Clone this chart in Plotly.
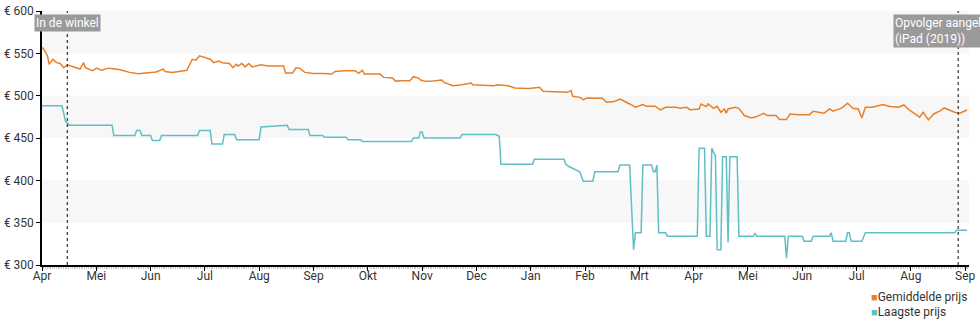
import pandas as pd
import plotly.graph_objects as go

# Month tick labels (Apr 2018 .. Sep 2019), evenly spaced
month_labels = ["Apr", "Mei", "Jun", "Jul", "Aug", "Sep", "Okt", "Nov", "Dec",
                "Jan", "Feb", "Mrt", "Apr", "Mei", "Jun", "Jul", "Aug", "Sep"]

# Average price
avg_dates = [
    "2018-04-01", "2018-04-02", "2018-04-04", "2018-04-05", "2018-04-07", "2018-04-09",
    "2018-04-11", "2018-04-13", "2018-04-15", "2018-04-20", "2018-04-22", "2018-04-24",
    "2018-04-25", "2018-04-29", "2018-05-01", "2018-05-04", "2018-05-08", "2018-05-14",
    "2018-05-20", "2018-05-25", "2018-05-29", "2018-06-04", "2018-06-08", "2018-06-09",
    "2018-06-13", "2018-06-16", "2018-06-21", "2018-06-24", "2018-06-26", "2018-06-28",
    "2018-07-01", "2018-07-04", "2018-07-06", "2018-07-09", "2018-07-11", "2018-07-15",
    "2018-07-17", "2018-07-19", "2018-07-20", "2018-07-22", "2018-07-24", "2018-07-26",
    "2018-07-28", "2018-08-02", "2018-08-06", "2018-08-15", "2018-08-16", "2018-08-20",
    "2018-08-22", "2018-08-24", "2018-08-27", "2018-09-01", "2018-09-07", "2018-09-11",
    "2018-09-13", "2018-09-18", "2018-09-24", "2018-09-26", "2018-09-28", "2018-09-29",
    "2018-10-08", "2018-10-10", "2018-10-15", "2018-10-17", "2018-10-19", "2018-10-25",
    "2018-10-27", "2018-10-30", "2018-10-31", "2018-11-03", "2018-11-07", "2018-11-12",
    "2018-11-13", "2018-11-18", "2018-11-23", "2018-11-28", "2018-11-29", "2018-12-11",
    "2018-12-13", "2018-12-19", "2018-12-23", "2018-12-31", "2019-01-06", "2019-01-08",
    "2019-01-14", "2019-01-22", "2019-01-24", "2019-01-25", "2019-01-29", "2019-01-31",
    "2019-02-02", "2019-02-05", "2019-02-10", "2019-02-12", "2019-02-16", "2019-02-19",
    "2019-02-21", "2019-02-22", "2019-02-24", "2019-02-27", "2019-03-03", "2019-03-05",
    "2019-03-10", "2019-03-13", "2019-03-16", "2019-03-22", "2019-03-24", "2019-03-28",
    "2019-03-30", "2019-04-04", "2019-04-05", "2019-04-08", "2019-04-09", "2019-04-12",
    "2019-04-14", "2019-04-16", "2019-04-18", "2019-04-19", "2019-04-20", "2019-04-24",
    "2019-04-26", "2019-04-29", "2019-05-03", "2019-05-06", "2019-05-10", "2019-05-12",
    "2019-05-17", "2019-05-19", "2019-05-23", "2019-05-25", "2019-05-30", "2019-06-05",
    "2019-06-07", "2019-06-10", "2019-06-13", "2019-06-16", "2019-06-18", "2019-06-23",
    "2019-06-26", "2019-06-29", "2019-07-02", "2019-07-04", "2019-07-06", "2019-07-10",
    "2019-07-13", "2019-07-16", "2019-07-20", "2019-07-25", "2019-07-28", "2019-07-31",
    "2019-08-04", "2019-08-06", "2019-08-08", "2019-08-11", "2019-08-14", "2019-08-18",
    "2019-08-20", "2019-08-23", "2019-08-26", "2019-08-29", "2019-08-31", "2019-09-02",
]
avg_prices = [
    557, 555, 547, 537, 543, 539,
    538, 533, 536.5, 533, 531.4, 539,
    533, 529.4, 532.5, 530, 532.5, 531,
    527.5, 526, 526.7, 528, 531.4, 528.6,
    527.5, 528.6, 530, 543, 542, 547,
    545, 543, 539, 541, 539, 538,
    533, 537, 535, 538, 534, 538,
    534, 536.5, 535, 535, 526.7, 526.7,
    533, 532.5, 527.5, 526.3, 526.3, 525.5,
    528.6, 529.4, 529.4, 526.3, 530, 525.5,
    525.5, 521.6, 520.8, 516.9, 517.6, 517.6,
    522.4, 520.8, 518.4, 516.9, 517.3, 518.4,
    515.7, 511.8, 513, 514.9, 513, 511.8,
    513, 511.8, 509, 508.6, 509.8, 505.1,
    504.7, 503.9, 505.9, 499.2, 498, 495.3,
    497.3, 496.9, 496.9, 492.2, 493, 496.1,
    493.3, 492.5, 490.2, 486.3, 489.4, 487.5,
    487.5, 483.1, 486.3, 486.3, 485.1, 486.3,
    483.5, 484.3, 490.2, 487.1, 490.2, 485.1,
    487.5, 480.4, 484.3, 479.2, 484.3, 486.3,
    485.1, 476.5, 473.7, 475.3, 479.2, 476.5,
    476.5, 471.8, 471.8, 478.4, 477.6, 477.6,
    481.6, 480.4, 479.2, 484.3, 481.6, 485.5,
    491, 485.1, 484.3, 473.7, 486.3, 486.3,
    488.2, 489.4, 487.1, 486.3, 489, 483.1,
    477.6, 474.5, 480.4, 471.4, 478.4, 482.4,
    485.5, 483.1, 480.4, 479.2, 481.6, 483.1,
]

# Lowest price
low_dates = [
    "2018-04-01", "2018-04-12", "2018-04-14", "2018-04-15", "2018-04-16", "2018-05-10",
    "2018-05-11", "2018-05-23", "2018-05-24", "2018-05-26", "2018-05-27", "2018-06-01",
    "2018-06-02", "2018-06-06", "2018-06-07", "2018-06-27", "2018-06-28", "2018-07-04",
    "2018-07-05", "2018-07-11", "2018-07-12", "2018-07-18", "2018-07-19", "2018-08-01",
    "2018-08-02", "2018-08-17", "2018-08-18", "2018-08-29", "2018-08-30", "2018-09-06",
    "2018-09-07", "2018-09-19", "2018-09-20", "2018-09-27", "2018-09-28", "2018-10-26",
    "2018-10-27", "2018-10-30", "2018-10-31", "2018-11-01", "2018-11-02", "2018-11-22",
    "2018-11-23", "2018-12-12", "2018-12-14", "2018-12-15", "2019-01-02", "2019-01-03",
    "2019-01-20", "2019-01-21", "2019-01-23", "2019-01-29", "2019-01-31", "2019-02-05",
    "2019-02-06", "2019-02-18", "2019-02-19", "2019-02-24", "2019-02-26", "2019-02-27",
    "2019-03-02", "2019-03-03", "2019-03-08", "2019-03-09", "2019-03-10", "2019-03-11",
    "2019-03-12", "2019-03-16", "2019-03-17", "2019-04-03", "2019-04-04", "2019-04-07",
    "2019-04-08", "2019-04-10", "2019-04-11", "2019-04-12", "2019-04-13", "2019-04-14",
    "2019-04-16", "2019-04-17", "2019-04-19", "2019-04-20", "2019-04-21", "2019-04-25",
    "2019-04-26", "2019-05-04", "2019-05-05", "2019-05-06", "2019-05-22", "2019-05-23",
    "2019-05-24", "2019-06-01", "2019-06-02", "2019-06-06", "2019-06-07", "2019-06-16",
    "2019-06-17", "2019-06-18", "2019-06-25", "2019-06-26", "2019-06-27", "2019-06-28",
    "2019-07-04", "2019-07-06", "2019-08-26", "2019-08-27", "2019-09-02",
]
low_prices = [
    488, 488, 470, 468, 465, 465,
    453, 453, 459, 459, 453, 453,
    447, 447, 453, 453, 459, 459,
    443, 443, 454, 454, 448, 448,
    463, 465, 460, 460, 453, 453,
    451, 451, 448, 448, 446, 446,
    450, 450, 457, 457, 450, 450,
    454, 454, 452, 419, 419, 425,
    425, 419, 416, 410, 399, 399,
    410, 410, 418, 418, 318, 338,
    338, 418, 418, 410, 410, 418,
    338, 338, 334, 334, 438, 438,
    334, 334, 438, 433, 429, 318,
    318, 428, 428, 327, 428, 428,
    334, 334, 337, 334, 334, 308,
    334, 334, 328, 328, 334, 334,
    338, 328, 328, 338, 338, 328,
    328, 338, 338, 341, 341,
]

series_names = ["Gemiddelde prijs", "Laagste prijs"]

# Events marked on the timeline
event_dates = ["2018-04-15", "2019-08-28"]
event_labels = ["In de winkel", "Opvolger aangekondigd<br>(iPad (2019))"]

y_ticks = [300, 350, 400, 450, 500, 550, 600]
FIRST = pd.Timestamp("2018-04-01")


def month_pos(d):
    """Position on the evenly spaced month axis (0 = start of Apr 2018)."""
    t = pd.Timestamp(d)
    k = (t.year - FIRST.year) * 12 + (t.month - FIRST.month)
    return k + (t.day - 1) / t.days_in_month


ORANGE = "#e8802a"
TEAL = "#5fbfc6"
FONT = "Roboto"

fig = go.Figure()

fig.add_trace(go.Scatter(
    x=[month_pos(d) for d in avg_dates], y=avg_prices, mode="lines", name=series_names[0],
    line=dict(color=ORANGE, width=1.5), showlegend=False, hoverinfo="skip"))
fig.add_trace(go.Scatter(
    x=[month_pos(d) for d in low_dates], y=low_prices, mode="lines", name=series_names[1],
    line=dict(color=TEAL, width=1.5), showlegend=False, hoverinfo="skip"))

shapes = []
# alternating light bands
for lo in (550, 450, 350):
    shapes.append(dict(type="rect", xref="paper", x0=0, x1=1, yref="y", y0=lo, y1=lo + 50,
                       fillcolor="#f7f7f7", line=dict(width=0), layer="below"))

annotations = []
for d, lab in zip(event_dates, event_labels):
    xp = month_pos(d)
    shapes.append(dict(type="line", xref="x", x0=xp, x1=xp, yref="paper", y0=0, y1=1,
                       line=dict(color="#333", width=1.2, dash="dot")))
    annotations.append(dict(x=xp, xref="x", y=1, yref="paper", yanchor="top", yshift=-3,
                            xanchor="center", text=lab, showarrow=False, align="left",
                            font=dict(family=FONT, size=12, color="white"),
                            bgcolor="#9a9a9a", borderpad=1))

# compact legend below the plot, right side
for i, (name, col) in enumerate(zip(series_names, [ORANGE, TEAL])):
    annotations.append(dict(
        xref="paper", x=0.892, xanchor="left",
        yref="paper", y=-0.1255 - i * 0.0588, yanchor="middle",
        text=f'<span style="color:{col};font-size:11px">■</span>{name}',
        showarrow=False, font=dict(family=FONT, size=12, color="#333")))

fig.update_layout(
    width=980, height=325,
    margin=dict(l=40, r=4, t=10, b=60),
    paper_bgcolor="white", plot_bgcolor="white",
    font=dict(family=FONT, size=12, color="#333"),
    shapes=shapes, annotations=annotations,
    showlegend=False,
    xaxis=dict(range=[0, 17.07], tickmode="array", tickvals=list(range(len(month_labels))),
               ticktext=month_labels, showgrid=False, zeroline=False,
               showline=True, linecolor="black", linewidth=1.5,
               ticks="outside", ticklen=4, tickcolor="black",
               ticklabeloverflow="allow", ticklabelstandoff=-5,
               minor=dict(ticks="outside", ticklen=2, tickcolor="#c8c8c8", dtick=1 / 30.5),
               tickfont=dict(family=FONT, size=12, color="#333")),
    yaxis=dict(range=[300, 600], tickvals=y_ticks, ticktext=[f"€ {v}" for v in y_ticks],
               showgrid=False, zeroline=False, showline=True, linecolor="black",
               linewidth=1.5, ticks="outside", ticklen=4, tickcolor="black",
               tickfont=dict(family=FONT, size=12, color="#333")),
)

fig.write_html("out.html")
